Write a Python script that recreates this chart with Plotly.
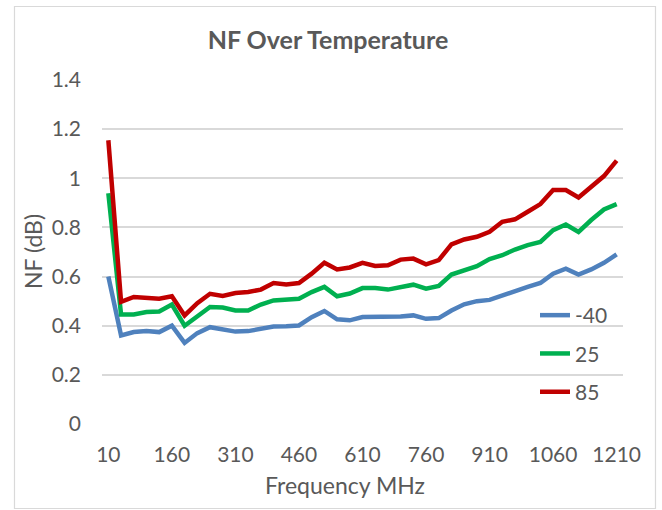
import plotly.graph_objects as go

freq = list(range(10, 1211, 30))
nf_m40 = [0.60, 0.36, 0.374, 0.378, 0.374, 0.40, 0.33, 0.37, 0.394, 0.384,
          0.376, 0.378, 0.388, 0.397, 0.398, 0.401, 0.435, 0.46, 0.426, 0.422,
          0.435, 0.435, 0.435, 0.438, 0.442, 0.428, 0.431, 0.462, 0.487, 0.50,
          0.505, 0.524, 0.541, 0.558, 0.574, 0.612, 0.632, 0.608, 0.629, 0.656, 0.69]
nf_25 = [0.939, 0.446, 0.446, 0.456, 0.458, 0.486, 0.40, 0.44, 0.476, 0.474,
         0.462, 0.462, 0.486, 0.503, 0.505, 0.51, 0.537, 0.558, 0.52, 0.531,
         0.553, 0.553, 0.547, 0.558, 0.567, 0.551, 0.562, 0.608, 0.626, 0.642,
         0.671, 0.687, 0.71, 0.728, 0.741, 0.789, 0.812, 0.782, 0.83, 0.873, 0.895]
nf_85 = [1.155, 0.497, 0.517, 0.513, 0.51, 0.52, 0.442, 0.492, 0.53, 0.521,
         0.533, 0.537, 0.547, 0.574, 0.568, 0.574, 0.612, 0.656, 0.629, 0.637,
         0.656, 0.643, 0.646, 0.669, 0.673, 0.65, 0.667, 0.731, 0.751, 0.762,
         0.782, 0.823, 0.833, 0.864, 0.895, 0.952, 0.952, 0.922, 0.966, 1.009, 1.072]
series_names = ["-40", "25", "85"]
series_vals = [nf_m40, nf_25, nf_85]
colors = ["#4f81bd", "#00b050", "#c00000"]
x_ticks = list(range(10, 1211, 150))
y_ticks = [0, 0.2, 0.4, 0.6, 0.8, 1.0, 1.2, 1.4]
y_ticktext = ["0", "0.2", "0.4", "0.6", "0.8", "1", "1.2", "1.4"]

W, H = 662, 510
L, R, T, B = 102, 39, 80, 86
FONT = "Lato, Carlito, Calibri, sans-serif"
GREY = "#595959"
TICK = 21

fig = go.Figure()
for name, vals, c in zip(series_names, series_vals, colors):
    fig.add_trace(go.Scatter(x=freq, y=vals, mode="lines", name=name,
                             legendgroup=name,
                             line=dict(color=c, width=4.5)))

pw = W - L - R
ph = H - T - B
def px_x(p):
    return (p - L) / pw
def px_y(p):
    return (H - B - p) / ph

fig.update_layout(
    width=W, height=H,
    margin=dict(l=L, r=R, t=T, b=B),
    paper_bgcolor="white", plot_bgcolor="white",
    font=dict(family=FONT, color=GREY, size=TICK),
    title=dict(text="<b>NF Over Temperature</b>", x=328 / W, xref="container",
               xanchor="center", y=1 - 40 / H, yref="container", yanchor="middle",
               font=dict(size=25, color=GREY, family=FONT)),
    showlegend=True,
    legend=dict(x=px_x(535), y=px_y(295), xanchor="left", yanchor="top",
                bgcolor="rgba(0,0,0,0)", font=dict(size=TICK, color=GREY),
                tracegroupgap=8, itemwidth=30),
    xaxis=dict(range=[-5, 1225], tickmode="array", tickvals=x_ticks,
               ticktext=[str(v) for v in x_ticks], showgrid=False,
               zeroline=False, showline=False, ticks="",
               tickfont=dict(size=TICK, color=GREY), ticklabelstandoff=16),
    yaxis=dict(range=[0, 1.4], tickmode="array", tickvals=y_ticks,
               ticktext=y_ticktext, showgrid=True, gridcolor="#d9d9d9",
               gridwidth=1.5, zeroline=False, showline=False, ticks="",
               tickfont=dict(size=TICK, color=GREY), ticklabelstandoff=20),
    annotations=[
        dict(text="Frequency MHz", xref="paper", yref="paper",
             x=px_x(345), y=px_y(485), xanchor="center", yanchor="middle",
             showarrow=False, font=dict(size=23, color=GREY, family=FONT)),
        dict(text="NF (dB)", xref="paper", yref="paper", textangle=-90,
             x=px_x(33), y=px_y(252), xanchor="center", yanchor="middle",
             showarrow=False, font=dict(size=23, color=GREY, family=FONT)),
    ],
    shapes=[dict(type="rect", xref="paper", yref="paper",
                 x0=px_x(14.5), x1=px_x(655.5), y0=px_y(508.5), y1=px_y(6.5),
                 line=dict(color="#d9d9d9", width=1.2), layer="below")],
)

fig.write_html("out.html",
               config={"displayModeBar": False},
               post_script="document.body.style.margin='0';"
                           "document.body.style.overflow='hidden';")
